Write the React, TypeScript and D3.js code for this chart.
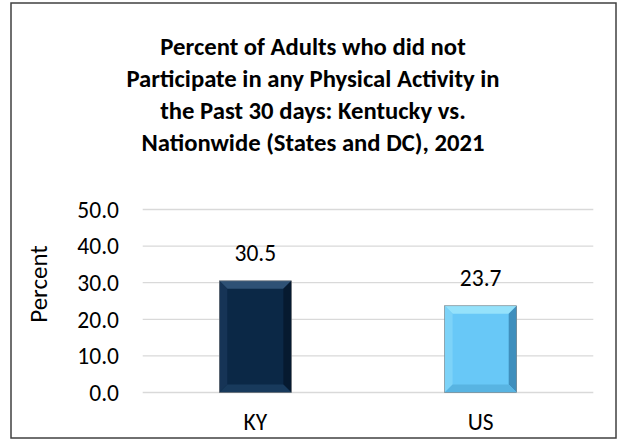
import React from "react";
import * as d3 from "d3";

const categories = ["KY", "US"];
const values = [30.5, 23.7];
const tickValues = [0, 10, 20, 30, 40, 50];
const titleLines = [
  "Percent of Adults who did not",
  "Participate in any Physical Activity in",
  "the Past 30 days: Kentucky vs.",
  "Nationwide (States and DC), 2021",
];
const yLabel = "Percent";

const W = 626;
const H = 441;
const FONT = "Carlito, Lato, 'Open Sans', sans-serif";

const barStyles = [
  { base: "#0b2846", top: "#2e5175", left: "#163456", right: "#061a30", bottom: "#183a5c" },
  { base: "#68c8f7", top: "#95e2fb", left: "#7dd3f8", right: "#3f8fbd", bottom: "#58b4e2" },
];

export default function App() {
  const plot = { left: 142.7, right: 593.3, top: 209.5, bottom: 392.5 };
  const y = d3.scaleLinear().domain([0, 50]).range([plot.bottom, plot.top]);
  const x = d3
    .scaleBand<string>()
    .domain(categories)
    .range([plot.left, plot.right])
    .paddingInner(0.68)
    .paddingOuter(0.34);
  const bw = x.bandwidth();
  const bev = 8;
  const fs = 23.5;

  return (
    <svg
      width={W}
      height={H}
      style={{ position: "absolute", left: 0, top: 0 }}
      fontFamily={FONT}
    >
      <rect x={0} y={0} width={W} height={H} fill="#fff" />
      <rect x={11} y={3} width={605} height={435} fill="#fff" stroke="#404040" strokeWidth={1.5} />
      {titleLines.map((t, i) => (
        <text
          key={i}
          x={313}
          y={55 + i * 32}
          textAnchor="middle"
          fontWeight="bold"
          fontSize={24.7}
          fill="#000"
        >
          {t}
        </text>
      ))}
      {tickValues.map((v) => (
        <g key={v}>
          <line
            x1={plot.left}
            x2={plot.right}
            y1={y(v)}
            y2={y(v)}
            stroke="#d9d9d9"
            strokeWidth={1.3}
          />
          <text
            x={119}
            y={y(v)}
            dy="0.35em"
            textAnchor="end"
            fontSize={fs}
            fill="#000"
          >
            {d3.format(".1f")(v)}
          </text>
        </g>
      ))}
      <text
        transform={`translate(47,284) rotate(-90)`}
        textAnchor="middle"
        fontSize={25}
        fill="#000"
      >
        {yLabel}
      </text>
      {categories.map((c, i) => {
        const x0 = x(c)!;
        const x1 = x0 + bw;
        const y0 = y(values[i]);
        const y1 = y(0);
        const s = barStyles[i];
        return (
          <g key={c}>
            <rect x={x0} y={y0} width={bw} height={y1 - y0} fill={s.base} />
            <polygon
              points={`${x0},${y0} ${x1},${y0} ${x1 - bev},${y0 + bev} ${x0 + bev},${y0 + bev}`}
              fill={s.top}
            />
            <polygon
              points={`${x0},${y0} ${x0 + bev},${y0 + bev} ${x0 + bev},${y1 - bev} ${x0},${y1}`}
              fill={s.left}
            />
            <polygon
              points={`${x1},${y0} ${x1 - bev},${y0 + bev} ${x1 - bev},${y1 - bev} ${x1},${y1}`}
              fill={s.right}
            />
            <polygon
              points={`${x0},${y1} ${x1},${y1} ${x1 - bev},${y1 - bev} ${x0 + bev},${y1 - bev}`}
              fill={s.bottom}
            />
            <rect
              x={x0}
              y={y0}
              width={bw}
              height={y1 - y0}
              fill="none"
              stroke="#7f7f7f"
              strokeWidth={0.6}
            />
            <text
              x={x0 + bw / 2}
              y={y0 - 20}
              textAnchor="middle"
              fontSize={fs}
              fill="#000"
            >
              {d3.format(".1f")(values[i])}
            </text>
            <text
              x={x0 + bw / 2}
              y={430}
              textAnchor="middle"
              fontSize={fs}
              fill="#000"
            >
              {c}
            </text>
          </g>
        );
      })}
    </svg>
  );
}
